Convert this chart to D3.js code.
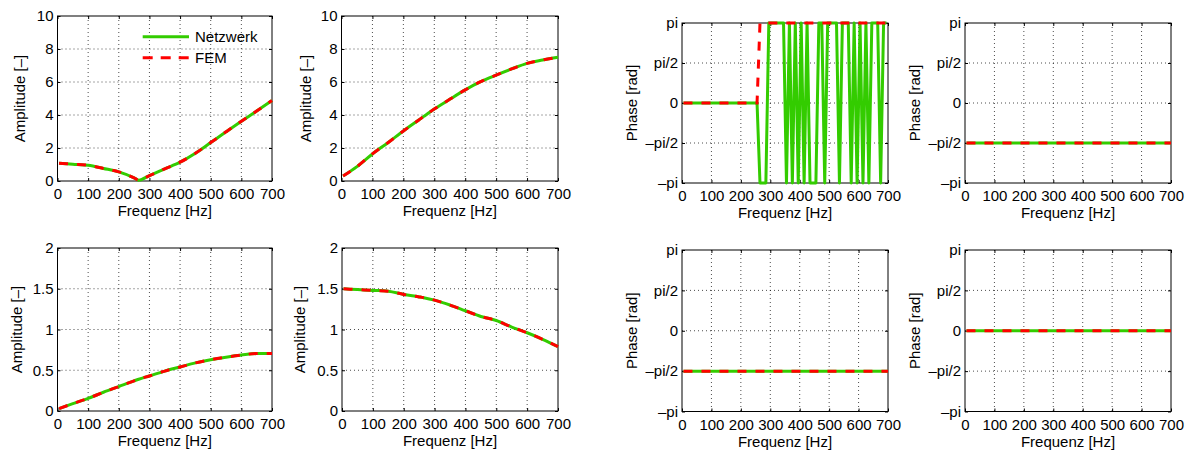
<!DOCTYPE html>
<html lang="de">
<head>
<meta charset="utf-8">
<title>Netzwerk vs. FEM</title>
<script src="https://d3js.org/d3.v7.min.js"></script>
<style>
  body { margin: 0; background: #fff; }
  text { font-family: "Liberation Sans", Arial, Helvetica, sans-serif; }
</style>
</head>
<body>
<svg id="chart" width="1188" height="452"></svg>
<script>
const PI = Math.PI;

// ---- ticks ----
const freqTicks = [0, 100, 200, 300, 400, 500, 600, 700];
const ampTicksTop = [0, 2, 4, 6, 8, 10];
const ampTicksBottom = [0, 0.5, 1, 1.5, 2];
const phaseTicks = [-PI, -PI / 2, 0, PI / 2, PI];
const phaseTickLabels = ["–pi", "–pi/2", "0", "pi/2", "pi"];

// ---- amplitude data ----
const freqAmp = [5, 50, 100, 150, 200, 250, 265, 300, 350, 400, 450, 500, 550, 600, 650, 700];
const amp1Netzwerk = [1.08, 1.02, 0.95, 0.76, 0.55, 0.19, 0.05, 0.33, 0.74, 1.14, 1.68, 2.33, 2.98, 3.62, 4.24, 4.88];
const amp1FEM      = [1.08, 1.02, 0.95, 0.76, 0.55, 0.19, 0.05, 0.33, 0.74, 1.14, 1.68, 2.33, 2.98, 3.62, 4.24, 4.88];
const amp2Netzwerk = [0.3, 0.87, 1.64, 2.32, 3.03, 3.7, 3.9, 4.36, 4.95, 5.52, 6.02, 6.42, 6.79, 7.13, 7.33, 7.5];
const amp2FEM      = [0.3, 0.87, 1.64, 2.32, 3.03, 3.7, 3.9, 4.36, 4.95, 5.52, 6.02, 6.42, 6.79, 7.13, 7.33, 7.5];
const amp3Netzwerk = [0.03, 0.09, 0.155, 0.23, 0.3, 0.37, 0.39, 0.43, 0.49, 0.54, 0.59, 0.63, 0.66, 0.686, 0.705, 0.705];
const amp3FEM      = [0.03, 0.09, 0.155, 0.23, 0.3, 0.37, 0.39, 0.43, 0.49, 0.54, 0.59, 0.63, 0.66, 0.686, 0.705, 0.705];
const amp4Netzwerk = [1.5, 1.49, 1.48, 1.47, 1.43, 1.4, 1.39, 1.36, 1.3, 1.23, 1.16, 1.11, 1.03, 0.96, 0.88, 0.79];
const amp4FEM      = [1.5, 1.49, 1.48, 1.47, 1.43, 1.4, 1.39, 1.36, 1.3, 1.23, 1.16, 1.11, 1.03, 0.96, 0.88, 0.79];

// ---- phase data, in units of pi ----
const freqPhase = [5, 15, 25, 35, 45, 55, 65, 75, 85, 95, 105, 115, 125, 135, 145, 155, 165, 175, 185, 195,
  205, 215, 225, 235, 245, 255, 265, 275, 285, 295, 305, 315, 325, 335, 345, 355, 365, 375, 385, 395,
  405, 415, 425, 435, 445, 455, 465, 475, 485, 495, 505, 515, 525, 535, 545, 555, 565, 575, 585, 595,
  605, 615, 625, 635, 645, 655, 665, 675, 685, 695];
const phase1Netzwerk = [0, 0, 0, 0, 0, 0, 0, 0, 0, 0, 0, 0, 0, 0, 0, 0, 0, 0, 0, 0,
  0, 0, 0, 0, 0, 0, -1, -1, -1, 1, 1, 1, 1, 1, 1, -1, 1, -1, 1, -1,
  1, -1, 1, -1, -1, -1, 1, 1, -1, 1, 1, 1, 1, -1, 1, 1, 1, -1, 1, -1,
  1, -1, 1, -1, 1, 1, 1, -1, 1, 1];
const phase1FEM = [0, 0, 0, 0, 0, 0, 0, 0, 0, 0, 0, 0, 0, 0, 0, 0, 0, 0, 0, 0,
  0, 0, 0, 0, 0, 0, 1, 1, 1, 1, 1, 1, 1, 1, 1, 1, 1, 1, 1, 1,
  1, 1, 1, 1, 1, 1, 1, 1, 1, 1, 1, 1, 1, 1, 1, 1, 1, 1, 1, 1,
  1, 1, 1, 1, 1, 1, 1, 1, 1, 1];
const freqConst = [5, 700];
const phase2Netzwerk = [-0.5, -0.5];
const phase2FEM = [-0.5, -0.5];
const phase3Netzwerk = [-0.5, -0.5];
const phase3FEM = [-0.5, -0.5];
const phase4Netzwerk = [0, 0];
const phase4FEM = [0, 0];

const green = "#33cc00";
const red = "#ff0000";
const fontSize = 15;

const svg = d3.select("#chart");

const zip = (xs, ys, k) => xs.map((x, i) => [x, ys[i] * k]);

const panels = [
  {x: 57.5, y: 16, w: 214.5, h: 165, kind: "amp", domain: [0, 10], ticks: ampTicksTop, yl: -38,
   f: freqAmp, a: amp1Netzwerk, b: amp1FEM, legend: true},
  {x: 341.5, y: 16, w: 216.5, h: 165, kind: "amp", domain: [0, 10], ticks: ampTicksTop, yl: -36,
   f: freqAmp, a: amp2Netzwerk, b: amp2FEM},
  {x: 682, y: 23, w: 206, h: 160, kind: "phase", f: freqPhase, a: phase1Netzwerk, b: phase1FEM, yl: -50},
  {x: 965, y: 23, w: 206, h: 160, kind: "phase", f: freqConst, a: phase2Netzwerk, b: phase2FEM, yl: -50},
  {x: 57.5, y: 248, w: 214.5, h: 163, kind: "amp", domain: [0, 2], ticks: ampTicksBottom, yl: -41,
   f: freqAmp, a: amp3Netzwerk, b: amp3FEM},
  {x: 342, y: 248, w: 216, h: 163, kind: "amp", domain: [0, 2], ticks: ampTicksBottom, yl: -42,
   f: freqAmp, a: amp4Netzwerk, b: amp4FEM},
  {x: 682, y: 250, w: 206, h: 161.5, kind: "phase", f: freqConst, a: phase3Netzwerk, b: phase3FEM, yl: -50},
  {x: 965, y: 250, w: 206, h: 161.5, kind: "phase", f: freqConst, a: phase4Netzwerk, b: phase4FEM, yl: -50}
];

panels.forEach(p => {
  const g = svg.append("g").attr("transform", `translate(${p.x},${p.y})`);
  const x = d3.scaleLinear().domain([0, 700]).range([0, p.w]);
  const isPhase = p.kind === "phase";
  const y = d3.scaleLinear().domain(isPhase ? [-PI, PI] : p.domain).range([p.h, 0]);
  const yTicks = isPhase ? phaseTicks : p.ticks;

  // dotted grid
  g.append("g").selectAll("line").data(freqTicks.slice(1, -1)).join("line")
    .attr("x1", d => x(d)).attr("x2", d => x(d)).attr("y1", 0).attr("y2", p.h)
    .attr("stroke", "#000").attr("stroke-opacity", 0.7).attr("stroke-dasharray", "1,3");
  g.append("g").selectAll("line").data(yTicks.slice(1, -1)).join("line")
    .attr("y1", d => y(d)).attr("y2", d => y(d)).attr("x1", 0).attr("x2", p.w)
    .attr("stroke", "#000").attr("stroke-opacity", 0.7).attr("stroke-dasharray", "1,3");

  // inward tick marks on all sides
  g.append("g").attr("transform", `translate(0,${p.h})`)
    .call(d3.axisBottom(x).tickValues(freqTicks).tickSize(-3).tickSizeOuter(0).tickFormat(""))
    .call(s => s.select(".domain").remove());
  g.append("g")
    .call(d3.axisTop(x).tickValues(freqTicks).tickSize(-3).tickSizeOuter(0).tickFormat(""))
    .call(s => s.select(".domain").remove());
  g.append("g")
    .call(d3.axisLeft(y).tickValues(yTicks).tickSize(-3).tickSizeOuter(0).tickFormat(""))
    .call(s => s.select(".domain").remove());
  g.append("g").attr("transform", `translate(${p.w},0)`)
    .call(d3.axisRight(y).tickValues(yTicks).tickSize(-3).tickSizeOuter(0).tickFormat(""))
    .call(s => s.select(".domain").remove());

  // tick labels
  g.append("g").attr("transform", `translate(0,${p.h})`)
    .call(d3.axisBottom(x).tickValues(freqTicks).tickSize(0).tickPadding(7.5).tickFormat(d3.format("d")))
    .call(s => s.select(".domain").remove())
    .call(s => s.selectAll("text").attr("font-size", fontSize).attr("fill", "#000")
      .style("font-family", '"Liberation Sans", Arial, sans-serif'));
  g.append("g")
    .call(d3.axisLeft(y).tickValues(yTicks).tickSize(0).tickPadding(4)
      .tickFormat((d, i) => isPhase ? phaseTickLabels[i] : String(d)))
    .call(s => s.select(".domain").remove())
    .call(s => s.selectAll("text").attr("font-size", fontSize).attr("fill", "#000")
      .style("font-family", '"Liberation Sans", Arial, sans-serif'));

  // box
  g.append("rect").attr("width", p.w).attr("height", p.h)
    .attr("fill", "none").attr("stroke", "#000").attr("stroke-width", 1);

  // axis labels
  g.append("text").attr("x", p.w / 2).attr("y", p.h + 35).attr("text-anchor", "middle")
    .attr("font-size", fontSize).text("Frequenz [Hz]");
  g.append("text").attr("transform", `translate(${p.yl},${p.h / 2}) rotate(-90)`)
    .attr("text-anchor", "middle").attr("dy", "0.35em")
    .attr("font-size", fontSize).text(isPhase ? "Phase [rad]" : "Amplitude [–]");

  // curves
  const k = isPhase ? PI : 1;
  const line = d3.line().x(d => x(d[0])).y(d => y(d[1]))
    .curve(isPhase ? d3.curveLinear : d3.curveMonotoneX);
  g.append("path").datum(zip(p.f, p.a, k)).attr("d", line)
    .attr("fill", "none").attr("stroke", green).attr("stroke-width", 3).attr("stroke-linejoin", "round");
  g.append("path").datum(zip(p.f, p.b, k)).attr("d", line)
    .attr("fill", "none").attr("stroke", red).attr("stroke-width", 3).attr("stroke-dasharray", "9,9");

  // legend
  if (p.legend) {
    const lg = g.append("g");
    const items = [{name: "Netzwerk", color: green, dash: null}, {name: "FEM", color: red, dash: "10,8"}];
    items.forEach((it, i) => {
      const yy = 20.7 + i * 21;
      lg.append("line").attr("x1", 85.2).attr("x2", 131.5).attr("y1", yy).attr("y2", yy)
        .attr("stroke", it.color).attr("stroke-width", 3).attr("stroke-dasharray", it.dash);
      lg.append("text").attr("x", 137.5).attr("y", yy + 5.3).attr("font-size", fontSize).text(it.name);
    });
  }
});
</script>
</body>
</html>
